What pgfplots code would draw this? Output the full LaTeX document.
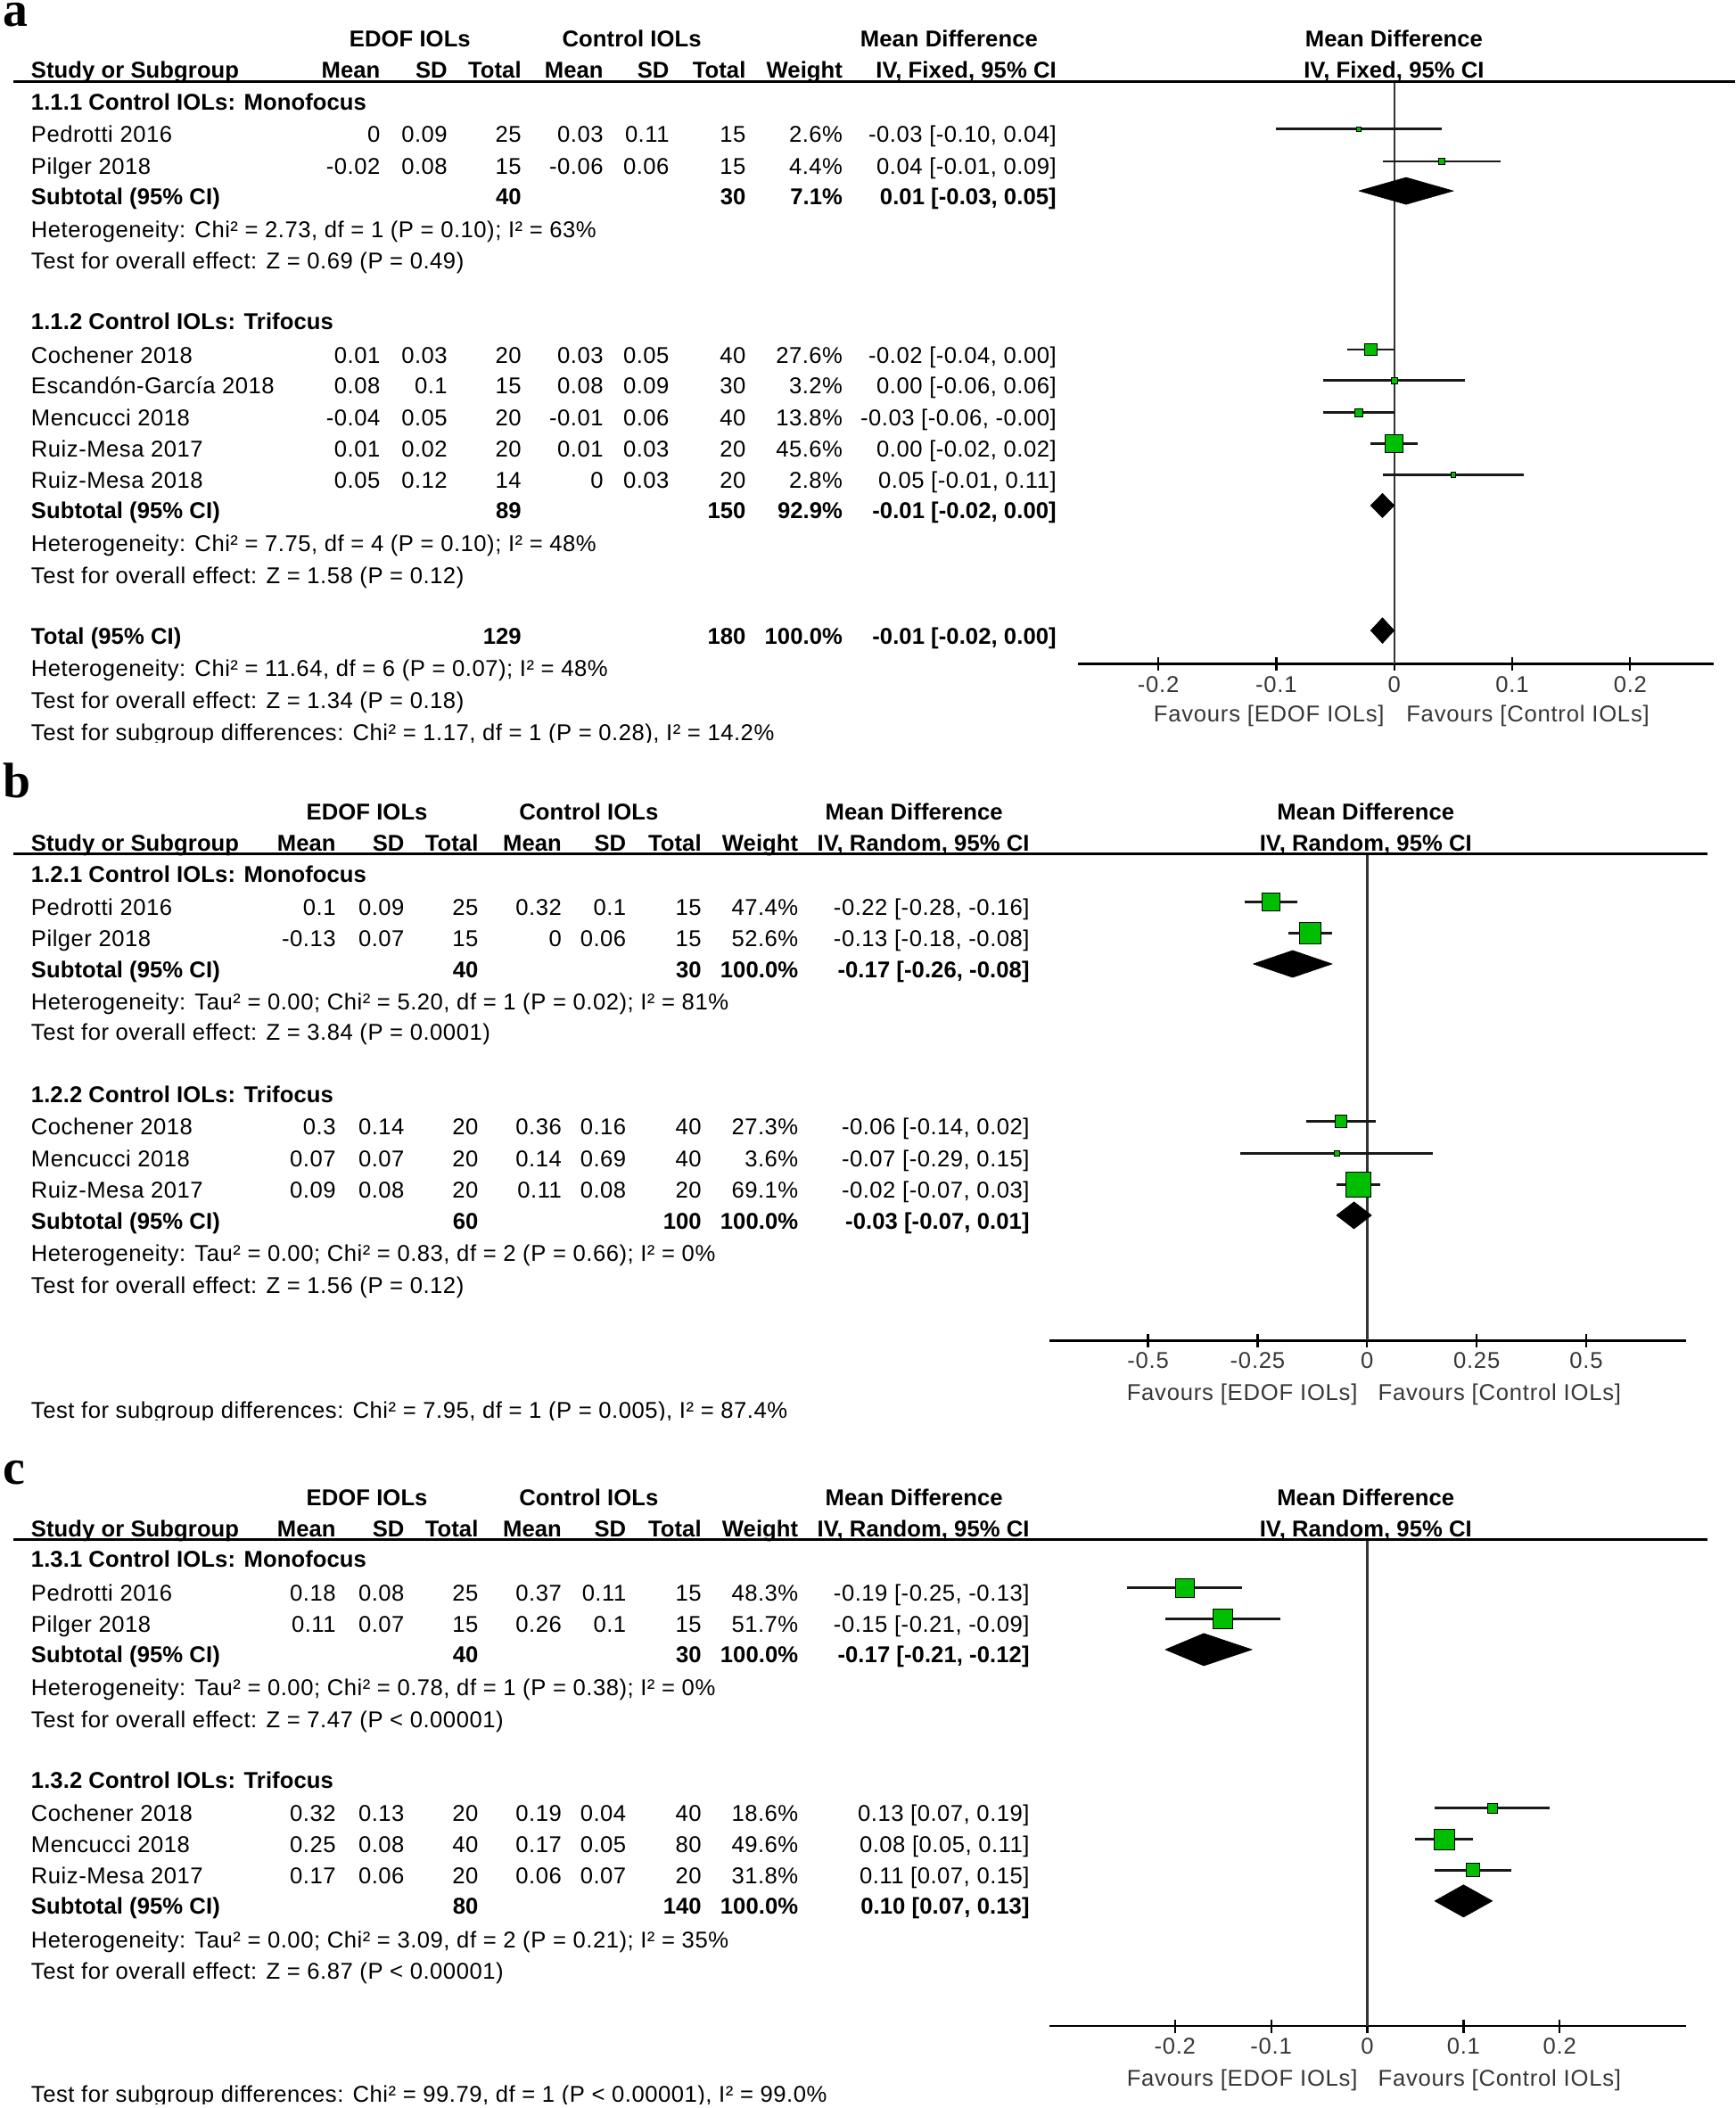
\documentclass[border=0pt]{standalone}
\usepackage{fontspec}
\usepackage{pgfplots}
\pgfplotsset{compat=1.18}
\setmainfont{Liberation Sans}[LetterSpace=2, BoldFeatures={LetterSpace=0.3}]
\newfontfamily\tickfam{Liberation Sans}[LetterSpace=3]
\newfontfamily\letterfam{Liberation Serif}
\definecolor{fgreen}{RGB}{0,190,0}
\definecolor{tickgray}{RGB}{55,55,55}
\newcommand{\tickfnt}{\tickfam\fontsize{17}{20}\selectfont}

\newcommand{\Lt}[3]{\node[anchor=base west,inner sep=0pt] at (#1,-#2-6) {#3};}
\newcommand{\Rt}[3]{\node[anchor=base east,inner sep=0pt] at (#1,-#2-6) {#3};}
\newcommand{\Ct}[3]{\node[anchor=base,inner sep=0pt] at (#1,-#2-6) {#3};}
\newcommand{\Row}[9]{\Rt{\cA}{#1}{#2}\Rt{\cB}{#1}{#3}\Rt{\cC}{#1}{#4}\Rt{\cD}{#1}{#5}\Rt{\cE}{#1}{#6}\Rt{\cF}{#1}{#7}\Rt{\cG}{#1}{#8}\Rt{\cH}{#1}{#9}}
\newcommand{\Sub}[6]{\Lt{23}{#1}{\bfseries #2}\Rt{\cC}{#1}{\bfseries #3}\Rt{\cF}{#1}{\bfseries #4}\Rt{\cG}{#1}{\bfseries #5}\Rt{\cH}{#1}{\bfseries #6}}
\newcommand{\HeadTwo}[2]{\Lt{23}{#1}{\bfseries Study or Subgroup}\Rt{\cA}{#1}{\bfseries Mean}\Rt{\cB}{#1}{\bfseries SD}\Rt{\cC}{#1}{\bfseries Total}\Rt{\cD}{#1}{\bfseries Mean}\Rt{\cE}{#1}{\bfseries SD}\Rt{\cF}{#1}{\bfseries Total}\Rt{\cG}{#1}{\bfseries Weight}\Rt{\cH}{#1}{\bfseries #2}}

\newcommand{\CI}[3]{\addplot[cil] coordinates {(#1,#3) (#2,#3)};}
\newcommand{\Sq}[3]{\addplot[only marks, mark=square*, mark size=#3, mark options={fill=fgreen, draw=none}] coordinates {(#1,#2)};}

\pgfplotsset{
 forest/.style={scale only axis, anchor=south west, axis y line=none, axis x line=bottom,
   axis line style={-, line width=1.8pt, black},
   tick align=center, major tick length=10pt,
   tick style={black, line width=1.5pt},
   xticklabel style={font=\tickfnt, text=tickgray, anchor=base, yshift=-16pt},
   clip=false},
 cil/.style={line width=1.8pt, black!90},
 zl/.style={line width=1.6pt, black!80},
 dia/.style={fill=black, draw=black, line width=0.4pt},
}

\begin{document}
\fontsize{17}{20}\selectfont
\begin{tikzpicture}
\path[use as bounding box] (0pt,0pt) rectangle (1291pt,-1568pt);

% ---------------- panel a plot
\begin{axis}[forest, at={(802pt,-494pt)}, width=473pt, height=433pt,
  xmin=-0.268, xmax=0.271, ymin=-494, ymax=-61,
  xtick={-0.2,-0.1,0,0.1,0.2}, xticklabels={-0.2,-0.1,0,0.1,0.2}]
\addplot[zl] coordinates {(0,-61) (0,-494)};
\CI{-0.10}{0.04}{-96}\Sq{-0.03}{-96}{1.8}
\CI{-0.01}{0.09}{-120}\Sq{0.04}{-120}{2.3}
\addplot[dia] coordinates {(-0.03,-142) (0.01,-132) (0.05,-142) (0.01,-152) (-0.03,-142)};
\CI{-0.04}{0.00}{-260}\Sq{-0.02}{-260}{4.5}
\CI{-0.06}{0.06}{-283}\Sq{0.00}{-283}{2.5}
\CI{-0.06}{-0.00}{-307}\Sq{-0.03}{-307}{3.1}
\CI{-0.02}{0.02}{-330}\Sq{0.00}{-330}{6.6}
\CI{-0.01}{0.11}{-353}\Sq{0.05}{-353}{1.8}
\addplot[dia] coordinates {(-0.02,-376) (-0.01,-367) (0.00,-376) (-0.01,-385) (-0.02,-376)};
\addplot[dia] coordinates {(-0.02,-469) (-0.01,-459.5) (0.00,-469) (-0.01,-478.5) (-0.02,-469)};
\end{axis}

% ---------------- panel b plot
\begin{axis}[forest, at={(781pt,-997pt)}, width=473pt, height=362pt,
  xmin=-0.724, xmax=0.727, ymin=-997, ymax=-635,
  xtick={-0.5,-0.25,0,0.25,0.5}, xticklabels={-0.5,-0.25,0,0.25,0.5}]
\addplot[zl] coordinates {(0,-635) (0,-997)};
\CI{-0.28}{-0.16}{-671}\Sq{-0.22}{-671}{6.7}
\CI{-0.18}{-0.08}{-694}\Sq{-0.13}{-694}{8}
\addplot[dia] coordinates {(-0.26,-717) (-0.17,-707) (-0.08,-717) (-0.17,-727) (-0.26,-717)};
\CI{-0.14}{0.02}{-834}\Sq{-0.06}{-834}{4.5}
\CI{-0.29}{0.15}{-858}\Sq{-0.07}{-858}{2}
\CI{-0.07}{0.03}{-881}\Sq{-0.02}{-881}{9.3}
\addplot[dia] coordinates {(-0.07,-904) (-0.03,-894) (0.01,-904) (-0.03,-914) (-0.07,-904)};
\end{axis}

% ---------------- panel c plot
\begin{axis}[forest, at={(781pt,-1507pt)}, width=473pt, height=362pt,
  xmin=-0.330, xmax=0.331, ymin=-1507, ymax=-1145,
  xtick={-0.2,-0.1,0,0.1,0.2}, xticklabels={-0.2,-0.1,0,0.1,0.2}]
\addplot[zl] coordinates {(0,-1145) (0,-1507)};
\CI{-0.25}{-0.13}{-1181}\Sq{-0.19}{-1181}{7.1}
\CI{-0.21}{-0.09}{-1204}\Sq{-0.15}{-1204}{7.3}
\addplot[dia] coordinates {(-0.21,-1227) (-0.17,-1215) (-0.12,-1227) (-0.17,-1239) (-0.21,-1227)};
\CI{0.07}{0.19}{-1345}\Sq{0.13}{-1345}{3.9}
\CI{0.05}{0.11}{-1368}\Sq{0.08}{-1368}{7.5}
\CI{0.07}{0.15}{-1391}\Sq{0.11}{-1391}{5}
\addplot[dia] coordinates {(0.07,-1414) (0.10,-1402) (0.13,-1414) (0.10,-1426) (0.07,-1414)};
\end{axis}

\begin{scope}[x=1pt,y=1pt]
% panel letters
\node[anchor=base west,inner sep=0pt,text height=17pt,text depth=0pt,font=\letterfam\bfseries\fontsize{37}{37}\selectfont] at (2,-19.5) {a};
\node[anchor=base west,inner sep=0pt,text height=25pt,text depth=0pt,font=\letterfam\bfseries\fontsize{37}{37}\selectfont] at (2,-593) {b};
\node[anchor=base west,inner sep=0pt,text height=17pt,text depth=0pt,font=\letterfam\bfseries\fontsize{37}{37}\selectfont] at (2,-1104) {c};

% ================= panel a table
\def\cA{283}\def\cB{333}\def\cC{388}\def\cD{449}\def\cE{498}\def\cF{555}\def\cG{627}\def\cH{786}
\Ct{305}{29}{\bfseries EDOF IOLs}\Ct{470}{29}{\bfseries Control IOLs}\Ct{706}{29}{\bfseries Mean Difference}\Ct{1037}{29}{\bfseries Mean Difference}
\HeadTwo{52}{IV, Fixed, 95\% CI}\Ct{1037}{52}{\bfseries IV, Fixed, 95\% CI}
\draw[line width=2pt] (10,-61) -- (1291,-61);
\Lt{23}{76}{\bfseries 1.1.1 Control IOLs: Monofocus}
\Lt{23}{100}{Pedrotti 2016}\Row{100}{0}{0.09}{25}{0.03}{0.11}{15}{2.6\%}{-0.03 [-0.10, 0.04]}
\Lt{23}{124}{Pilger 2018}\Row{124}{-0.02}{0.08}{15}{-0.06}{0.06}{15}{4.4\%}{0.04 [-0.01, 0.09]}
\Sub{146}{Subtotal (95\% CI)}{40}{30}{7.1\%}{0.01 [-0.03, 0.05]}
\Lt{23}{171}{Heterogeneity: Chi² = 2.73, df = 1 (P = 0.10); I² = 63\%}
\Lt{23}{194}{Test for overall effect: Z = 0.69 (P = 0.49)}
\Lt{23}{239}{\bfseries 1.1.2 Control IOLs: Trifocus}
\Lt{23}{264}{Cochener 2018}\Row{264}{0.01}{0.03}{20}{0.03}{0.05}{40}{27.6\%}{-0.02 [-0.04, 0.00]}
\Lt{23}{287}{Escandón-García 2018}\Row{287}{0.08}{0.1}{15}{0.08}{0.09}{30}{3.2\%}{0.00 [-0.06, 0.06]}
\Lt{23}{311}{Mencucci 2018}\Row{311}{-0.04}{0.05}{20}{-0.01}{0.06}{40}{13.8\%}{-0.03 [-0.06, -0.00]}
\Lt{23}{334}{Ruiz-Mesa 2017}\Row{334}{0.01}{0.02}{20}{0.01}{0.03}{20}{45.6\%}{0.00 [-0.02, 0.02]}
\Lt{23}{357}{Ruiz-Mesa 2018}\Row{357}{0.05}{0.12}{14}{0}{0.03}{20}{2.8\%}{0.05 [-0.01, 0.11]}
\Sub{380}{Subtotal (95\% CI)}{89}{150}{92.9\%}{-0.01 [-0.02, 0.00]}
\Lt{23}{404}{Heterogeneity: Chi² = 7.75, df = 4 (P = 0.10); I² = 48\%}
\Lt{23}{428}{Test for overall effect: Z = 1.58 (P = 0.12)}
\Sub{473}{Total (95\% CI)}{129}{180}{100.0\%}{-0.01 [-0.02, 0.00]}
\Lt{23}{497}{Heterogeneity: Chi² = 11.64, df = 6 (P = 0.07); I² = 48\%}
\Lt{23}{521}{Test for overall effect: Z = 1.34 (P = 0.18)}
\begin{scope}\clip (0,-530) rectangle (800,-552);
\Lt{23}{545}{Test for subgroup differences: Chi² = 1.17, df = 1 (P = 0.28), I² = 14.2\%}
\end{scope}
\node[anchor=base east,inner sep=0pt,font=\tickfnt,text=tickgray] at (1030,-537) {Favours [EDOF IOLs]};
\node[anchor=base west,inner sep=0pt,font=\tickfnt,text=tickgray] at (1046,-537) {Favours [Control IOLs]};

% ================= panel b table
\def\cA{250}\def\cB{301}\def\cC{356}\def\cD{418}\def\cE{466}\def\cF{522}\def\cG{594}\def\cH{766}
\Ct{273}{604}{\bfseries EDOF IOLs}\Ct{438}{604}{\bfseries Control IOLs}\Ct{680}{604}{\bfseries Mean Difference}\Ct{1016}{604}{\bfseries Mean Difference}
\HeadTwo{627}{IV, Random, 95\% CI}\Ct{1016}{627}{\bfseries IV, Random, 95\% CI}
\draw[line width=2pt] (10,-635) -- (1270,-635);
\Lt{23}{650}{\bfseries 1.2.1 Control IOLs: Monofocus}
\Lt{23}{675}{Pedrotti 2016}\Row{675}{0.1}{0.09}{25}{0.32}{0.1}{15}{47.4\%}{-0.22 [-0.28, -0.16]}
\Lt{23}{698}{Pilger 2018}\Row{698}{-0.13}{0.07}{15}{0}{0.06}{15}{52.6\%}{-0.13 [-0.18, -0.08]}
\Sub{721}{Subtotal (95\% CI)}{40}{30}{100.0\%}{-0.17 [-0.26, -0.08]}
\Lt{23}{745}{Heterogeneity: Tau² = 0.00; Chi² = 5.20, df = 1 (P = 0.02); I² = 81\%}
\Lt{23}{768}{Test for overall effect: Z = 3.84 (P = 0.0001)}
\Lt{23}{814}{\bfseries 1.2.2 Control IOLs: Trifocus}
\Lt{23}{838}{Cochener 2018}\Row{838}{0.3}{0.14}{20}{0.36}{0.16}{40}{27.3\%}{-0.06 [-0.14, 0.02]}
\Lt{23}{862}{Mencucci 2018}\Row{862}{0.07}{0.07}{20}{0.14}{0.69}{40}{3.6\%}{-0.07 [-0.29, 0.15]}
\Lt{23}{885}{Ruiz-Mesa 2017}\Row{885}{0.09}{0.08}{20}{0.11}{0.08}{20}{69.1\%}{-0.02 [-0.07, 0.03]}
\Sub{908}{Subtotal (95\% CI)}{60}{100}{100.0\%}{-0.03 [-0.07, 0.01]}
\Lt{23}{932}{Heterogeneity: Tau² = 0.00; Chi² = 0.83, df = 2 (P = 0.66); I² = 0\%}
\Lt{23}{956}{Test for overall effect: Z = 1.56 (P = 0.12)}
\begin{scope}\clip (0,-1035) rectangle (800,-1056);
\Lt{23}{1049}{Test for subgroup differences: Chi² = 7.95, df = 1 (P = 0.005), I² = 87.4\%}
\end{scope}
\node[anchor=base east,inner sep=0pt,font=\tickfnt,text=tickgray] at (1010,-1042) {Favours [EDOF IOLs]};
\node[anchor=base west,inner sep=0pt,font=\tickfnt,text=tickgray] at (1025,-1042) {Favours [Control IOLs]};

% ================= panel c table
\Ct{273}{1114}{\bfseries EDOF IOLs}\Ct{438}{1114}{\bfseries Control IOLs}\Ct{680}{1114}{\bfseries Mean Difference}\Ct{1016}{1114}{\bfseries Mean Difference}
\HeadTwo{1137}{IV, Random, 95\% CI}\Ct{1016}{1137}{\bfseries IV, Random, 95\% CI}
\draw[line width=2pt] (10,-1145) -- (1270,-1145);
\Lt{23}{1160}{\bfseries 1.3.1 Control IOLs: Monofocus}
\Lt{23}{1185}{Pedrotti 2016}\Row{1185}{0.18}{0.08}{25}{0.37}{0.11}{15}{48.3\%}{-0.19 [-0.25, -0.13]}
\Lt{23}{1208}{Pilger 2018}\Row{1208}{0.11}{0.07}{15}{0.26}{0.1}{15}{51.7\%}{-0.15 [-0.21, -0.09]}
\Sub{1231}{Subtotal (95\% CI)}{40}{30}{100.0\%}{-0.17 [-0.21, -0.12]}
\Lt{23}{1255}{Heterogeneity: Tau² = 0.00; Chi² = 0.78, df = 1 (P = 0.38); I² = 0\%}
\Lt{23}{1279}{Test for overall effect: Z = 7.47 (P < 0.00001)}
\Lt{23}{1324}{\bfseries 1.3.2 Control IOLs: Trifocus}
\Lt{23}{1349}{Cochener 2018}\Row{1349}{0.32}{0.13}{20}{0.19}{0.04}{40}{18.6\%}{0.13 [0.07, 0.19]}
\Lt{23}{1372}{Mencucci 2018}\Row{1372}{0.25}{0.08}{40}{0.17}{0.05}{80}{49.6\%}{0.08 [0.05, 0.11]}
\Lt{23}{1395}{Ruiz-Mesa 2017}\Row{1395}{0.17}{0.06}{20}{0.06}{0.07}{20}{31.8\%}{0.11 [0.07, 0.15]}
\Sub{1418}{Subtotal (95\% CI)}{80}{140}{100.0\%}{0.10 [0.07, 0.13]}
\Lt{23}{1443}{Heterogeneity: Tau² = 0.00; Chi² = 3.09, df = 2 (P = 0.21); I² = 35\%}
\Lt{23}{1466}{Test for overall effect: Z = 6.87 (P < 0.00001)}
\begin{scope}\clip (0,-1545) rectangle (800,-1565);
\Lt{23}{1558}{Test for subgroup differences: Chi² = 99.79, df = 1 (P < 0.00001), I² = 99.0\%}
\end{scope}
\node[anchor=base east,inner sep=0pt,font=\tickfnt,text=tickgray] at (1010,-1552) {Favours [EDOF IOLs]};
\node[anchor=base west,inner sep=0pt,font=\tickfnt,text=tickgray] at (1025,-1552) {Favours [Control IOLs]};
\end{scope}
\end{tikzpicture}
\end{document}
